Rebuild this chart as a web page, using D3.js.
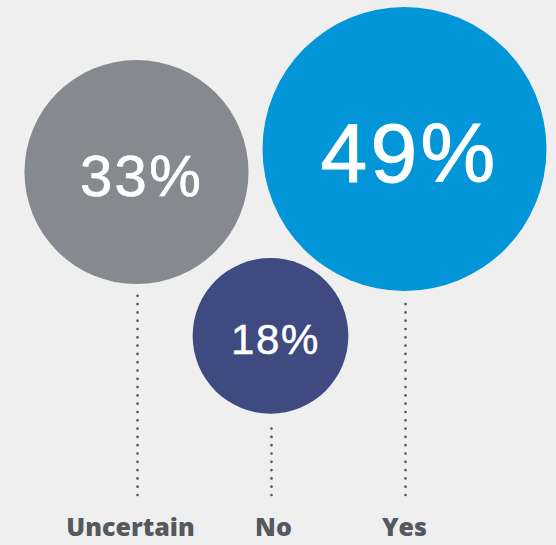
<!DOCTYPE html>
<html>
<head>
<meta charset="utf-8">
<script src="https://cdn.jsdelivr.net/npm/d3@7"></script>
<style>
  html, body { margin: 0; padding: 0; background: #efefef; }
  svg { display: block; }
</style>
</head>
<body>
<svg width="556" height="545"></svg>
<script>
var categories = ["Uncertain", "No", "Yes"];
var values = [33, 18, 49];
var labels = ["33%", "18%", "49%"];

var colors = {Uncertain: "#86898d", No: "#3e4a80", Yes: "#0295d8"};
// top edge of each bubble, the design staggers them
var bubbleTop = {Uncertain: 60, No: 258, Yes: 7};
var lineStart = {Uncertain: 288, No: 421, Yes: 301};
var labelShift = {Uncertain: -6, No: 3, Yes: 0};
var lineEnd = 495;

var svg = d3.select("svg");

var x = d3.scalePoint()
    .domain(categories)
    .range([136.5, 404.5]);

var r = d3.scalePow().exponent(0.6)
    .domain([0, 49])
    .range([0, 142]);

var fontSize = d3.scaleLinear()
    .domain([18, 33, 49])
    .range([42, 58, 84]);

var data = categories.map(function (c, i) {
    return {name: c, value: values[i], label: labels[i]};
});

// dotted leader lines, drawn bottom up so the last dot sits on lineEnd
svg.append("g")
    .selectAll("path")
    .data(data)
    .enter().append("path")
    .attr("d", function (d) {
        var cx = x(d.name) + 1;
        return "M" + cx + "," + lineEnd + "V" + lineStart[d.name];
    })
    .attr("stroke", "#55585d")
    .attr("stroke-width", 2.7)
    .attr("stroke-linecap", "round")
    .attr("stroke-dasharray", "0 8.3")
    .attr("fill", "none");

var bubble = svg.append("g")
    .selectAll("g")
    .data(data)
    .enter().append("g")
    .attr("transform", function (d) {
        return "translate(" + x(d.name) + "," + (bubbleTop[d.name] + r(d.value)) + ")";
    });

bubble.append("circle")
    .attr("r", function (d) { return r(d.value); })
    .attr("fill", function (d) { return colors[d.name]; });

bubble.append("text")
    .text(function (d) { return d.label; })
    .attr("x", 5)
    .attr("y", function (d) { return fontSize(d.value) * 0.358 + 3; })
    .attr("text-anchor", "middle")
    .attr("fill", "#fff")
    .attr("stroke", "#fff")
    .attr("stroke-width", function (d) { return fontSize(d.value) * 0.012; })
    .attr("font-family", "Helvetica, Arial, 'Liberation Sans', sans-serif")
    .attr("font-size", function (d) { return fontSize(d.value); })
    .attr("letter-spacing", function (d) { return fontSize(d.value) * 0.04; });

svg.append("g")
    .selectAll("text")
    .data(data)
    .enter().append("text")
    .text(function (d) { return d.name; })
    .attr("x", function (d) { return x(d.name) + labelShift[d.name]; })
    .attr("y", 536)
    .attr("text-anchor", "middle")
    .attr("fill", "#55585d")
    .attr("font-family", "'Open Sans', sans-serif")
    .attr("font-weight", 800)
    .attr("font-size", 25);
</script>
</body>
</html>
